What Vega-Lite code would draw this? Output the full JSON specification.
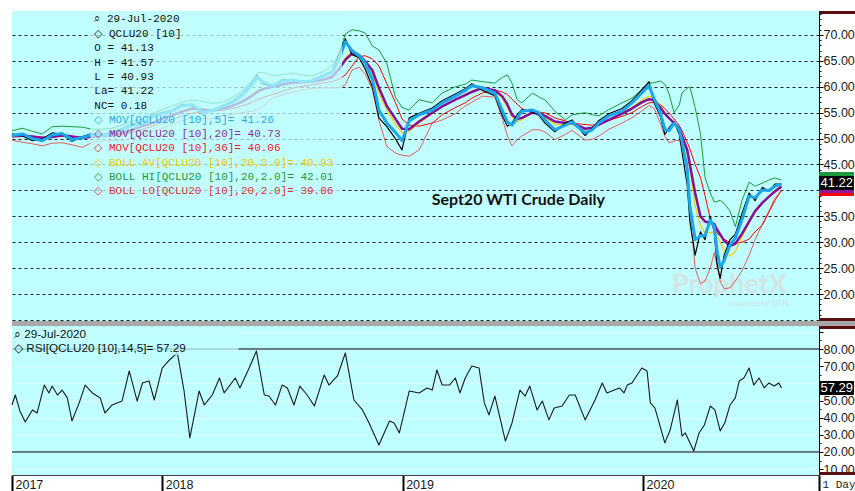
{
  "$schema": "https://vega.github.io/schema/vega-lite/v6.json",
  "background": "#ffffff",
  "padding": {"left": 10, "top": 8, "right": 0, "bottom": 0},
  "spacing": 5,
  "bounds": "flush",
  "config": {
    "view": {"fill": "#c0ffff", "stroke": null},
    "line": {"strokeJoin": "round"}
  },
  "datasets": {
    "p": [
      {"d": "2017-05-18", "c": 50.9, "m5": 50.6, "m20": 50.5, "bav": 50.5, "m36": 50.3, "bhi": 51.5, "blo": 49.7},
      {"d": "2017-06-03", "c": 50.5, "m5": 50.9, "m20": 50.6, "bav": 50.6, "m36": 50.4, "bhi": 52.0, "blo": 49.3},
      {"d": "2017-06-18", "c": 49.6, "m5": 50.0, "m20": 50.4, "bav": 50.3, "m36": 50.4, "bhi": 51.4, "blo": 49.0},
      {"d": "2017-07-03", "c": 49.9, "m5": 49.6, "m20": 50.1, "bav": 50.0, "m36": 50.3, "bhi": 50.9, "blo": 48.6},
      {"d": "2017-07-18", "c": 51.1, "m5": 50.7, "m20": 50.3, "bav": 50.4, "m36": 50.3, "bhi": 52.3, "blo": 49.1},
      {"d": "2017-08-02", "c": 50.8, "m5": 51.0, "m20": 50.7, "bav": 50.7, "m36": 50.4, "bhi": 52.4, "blo": 49.2},
      {"d": "2017-08-17", "c": 49.5, "m5": 49.8, "m20": 50.4, "bav": 50.3, "m36": 50.4, "bhi": 52.3, "blo": 48.8},
      {"d": "2017-09-02", "c": 50.4, "m5": 50.2, "m20": 50.1, "bav": 50.1, "m36": 50.3, "bhi": 52.2, "blo": 48.3},
      {"d": "2017-09-17", "c": 51.0, "m5": 50.8, "m20": 50.4, "bav": 50.5, "m36": 50.3, "bhi": 51.8, "blo": 49.3},
      {"d": "2017-10-02", "c": 50.8, "m5": 50.6, "m20": 50.6, "bav": 50.6, "m36": 50.4, "bhi": 51.8, "blo": 49.5},
      {"d": "2017-10-17", "c": 51.2, "m5": 51.0, "m20": 50.7, "bav": 50.8, "m36": 50.5, "bhi": 52.0, "blo": 49.6},
      {"d": "2017-11-01", "c": 52.0, "m5": 51.8, "m20": 51.1, "bav": 51.2, "m36": 50.8, "bhi": 52.6, "blo": 49.7},
      {"d": "2017-11-16", "c": 52.8, "m5": 52.5, "m20": 51.7, "bav": 51.8, "m36": 51.2, "bhi": 53.3, "blo": 50.0},
      {"d": "2017-12-02", "c": 52.9, "m5": 53.0, "m20": 52.4, "bav": 52.5, "m36": 51.8, "bhi": 53.8, "blo": 50.9},
      {"d": "2017-12-17", "c": 54.5, "m5": 54.2, "m20": 53.0, "bav": 53.2, "m36": 52.4, "bhi": 54.8, "blo": 51.3},
      {"d": "2018-01-01", "c": 55.0, "m5": 54.8, "m20": 53.8, "bav": 54.0, "m36": 53.1, "bhi": 55.6, "blo": 52.0},
      {"d": "2018-01-16", "c": 55.5, "m5": 55.3, "m20": 54.5, "bav": 54.7, "m36": 53.7, "bhi": 56.3, "blo": 52.8},
      {"d": "2018-01-31", "c": 56.6, "m5": 56.3, "m20": 55.2, "bav": 55.4, "m36": 54.3, "bhi": 57.0, "blo": 53.4},
      {"d": "2018-02-16", "c": 56.3, "m5": 56.6, "m20": 55.8, "bav": 55.9, "m36": 54.9, "bhi": 57.4, "blo": 54.0},
      {"d": "2018-03-03", "c": 54.7, "m5": 55.0, "m20": 55.6, "bav": 55.5, "m36": 55.2, "bhi": 57.2, "blo": 53.9},
      {"d": "2018-03-18", "c": 55.6, "m5": 55.4, "m20": 55.4, "bav": 55.4, "m36": 55.3, "bhi": 56.8, "blo": 53.8},
      {"d": "2018-04-02", "c": 56.4, "m5": 56.2, "m20": 55.7, "bav": 55.8, "m36": 55.5, "bhi": 57.0, "blo": 54.3},
      {"d": "2018-04-17", "c": 57.2, "m5": 57.0, "m20": 56.3, "bav": 56.4, "m36": 55.8, "bhi": 57.9, "blo": 54.7},
      {"d": "2018-05-02", "c": 58.6, "m5": 58.3, "m20": 57.1, "bav": 57.3, "m36": 56.3, "bhi": 59.1, "blo": 55.0},
      {"d": "2018-05-18", "c": 60.9, "m5": 60.5, "m20": 58.3, "bav": 58.6, "m36": 57.0, "bhi": 61.4, "blo": 55.3},
      {"d": "2018-05-25", "c": 62.2, "m5": 61.8, "m20": 59.0, "bav": 59.3, "m36": 57.5, "bhi": 62.6, "blo": 55.6},
      {"d": "2018-06-02", "c": 60.6, "m5": 61.0, "m20": 59.5, "bav": 59.7, "m36": 57.9, "bhi": 62.8, "blo": 56.2},
      {"d": "2018-06-17", "c": 60.0, "m5": 60.2, "m20": 60.0, "bav": 60.0, "m36": 58.5, "bhi": 62.2, "blo": 57.8},
      {"d": "2018-07-02", "c": 61.4, "m5": 61.1, "m20": 60.4, "bav": 60.5, "m36": 59.1, "bhi": 62.3, "blo": 58.4},
      {"d": "2018-07-17", "c": 61.2, "m5": 61.3, "m20": 60.8, "bav": 60.8, "m36": 59.7, "bhi": 62.7, "blo": 58.9},
      {"d": "2018-08-01", "c": 60.8, "m5": 61.0, "m20": 60.9, "bav": 60.9, "m36": 60.1, "bhi": 62.3, "blo": 59.4},
      {"d": "2018-08-17", "c": 61.3, "m5": 61.1, "m20": 61.0, "bav": 61.0, "m36": 60.4, "bhi": 62.1, "blo": 59.7},
      {"d": "2018-09-01", "c": 62.2, "m5": 62.0, "m20": 61.3, "bav": 61.4, "m36": 60.7, "bhi": 62.8, "blo": 59.8},
      {"d": "2018-09-16", "c": 63.0, "m5": 62.8, "m20": 61.9, "bav": 62.0, "m36": 61.0, "bhi": 64.0, "blo": 59.8},
      {"d": "2018-09-27", "c": 66.5, "m5": 65.5, "m20": 63.5, "bav": 63.8, "m36": 61.5, "bhi": 66.5, "blo": 59.8},
      {"d": "2018-10-06", "c": 69.3, "m5": 68.7, "m20": 65.2, "bav": 65.6, "m36": 62.3, "bhi": 70.2, "blo": 60.4},
      {"d": "2018-10-16", "c": 66.2, "m5": 67.0, "m20": 66.4, "bav": 66.8, "m36": 64.0, "bhi": 71.0, "blo": 63.2},
      {"d": "2018-10-27", "c": 65.6, "m5": 66.0, "m20": 66.1, "bav": 66.3, "m36": 65.8, "bhi": 70.8, "blo": 63.8},
      {"d": "2018-11-05", "c": 63.5, "m5": 64.6, "m20": 64.9, "bav": 64.6, "m36": 66.0, "bhi": 70.4, "blo": 62.5},
      {"d": "2018-11-16", "c": 60.0, "m5": 61.5, "m20": 63.2, "bav": 62.5, "m36": 65.4, "bhi": 67.9, "blo": 59.5},
      {"d": "2018-11-26", "c": 54.0, "m5": 55.5, "m20": 59.8, "bav": 58.8, "m36": 64.0, "bhi": 67.1, "blo": 53.5},
      {"d": "2018-12-08", "c": 52.3, "m5": 53.0, "m20": 56.3, "bav": 55.5, "m36": 60.6, "bhi": 64.5, "blo": 48.5},
      {"d": "2018-12-21", "c": 50.0, "m5": 51.2, "m20": 53.8, "bav": 52.8, "m36": 57.0, "bhi": 58.0, "blo": 47.2},
      {"d": "2018-12-31", "c": 47.8, "m5": 49.6, "m20": 51.9, "bav": 51.1, "m36": 53.8, "bhi": 56.0, "blo": 46.8},
      {"d": "2019-01-11", "c": 54.0, "m5": 53.4, "m20": 51.8, "bav": 51.4, "m36": 52.6, "bhi": 55.5, "blo": 46.6},
      {"d": "2019-01-26", "c": 54.9, "m5": 54.6, "m20": 53.3, "bav": 53.0, "m36": 52.4, "bhi": 57.5, "blo": 47.8},
      {"d": "2019-02-15", "c": 55.9, "m5": 55.5, "m20": 55.0, "bav": 54.8, "m36": 53.0, "bhi": 56.9, "blo": 53.0},
      {"d": "2019-03-02", "c": 57.3, "m5": 56.9, "m20": 56.2, "bav": 56.1, "m36": 54.6, "bhi": 58.8, "blo": 53.6},
      {"d": "2019-03-22", "c": 58.6, "m5": 58.2, "m20": 57.5, "bav": 57.5, "m36": 56.0, "bhi": 60.0, "blo": 54.8},
      {"d": "2019-04-06", "c": 59.6, "m5": 59.3, "m20": 58.4, "bav": 58.5, "m36": 56.9, "bhi": 60.5, "blo": 56.3},
      {"d": "2019-04-16", "c": 60.6, "m5": 60.2, "m20": 59.0, "bav": 59.1, "m36": 57.8, "bhi": 61.3, "blo": 57.0},
      {"d": "2019-05-02", "c": 59.3, "m5": 59.8, "m20": 59.8, "bav": 59.9, "m36": 58.8, "bhi": 61.0, "blo": 58.2},
      {"d": "2019-05-21", "c": 58.3, "m5": 58.8, "m20": 59.3, "bav": 59.2, "m36": 59.4, "bhi": 60.7, "blo": 58.0},
      {"d": "2019-06-01", "c": 54.5, "m5": 55.5, "m20": 58.2, "bav": 57.8, "m36": 59.0, "bhi": 61.8, "blo": 54.0},
      {"d": "2019-06-09", "c": 52.4, "m5": 53.2, "m20": 56.6, "bav": 56.0, "m36": 58.5, "bhi": 62.3, "blo": 50.5},
      {"d": "2019-06-16", "c": 53.0, "m5": 52.6, "m20": 54.6, "bav": 54.2, "m36": 57.6, "bhi": 60.7, "blo": 48.6},
      {"d": "2019-06-24", "c": 54.6, "m5": 54.0, "m20": 53.8, "bav": 53.2, "m36": 56.6, "bhi": 57.5, "blo": 49.8},
      {"d": "2019-07-01", "c": 55.6, "m5": 55.3, "m20": 54.0, "bav": 53.7, "m36": 55.8, "bhi": 56.9, "blo": 50.5},
      {"d": "2019-07-17", "c": 55.1, "m5": 55.5, "m20": 55.0, "bav": 55.0, "m36": 55.0, "bhi": 58.8, "blo": 51.7},
      {"d": "2019-07-27", "c": 54.5, "m5": 55.0, "m20": 54.9, "bav": 54.8, "m36": 55.0, "bhi": 58.0, "blo": 51.7},
      {"d": "2019-08-05", "c": 53.0, "m5": 53.6, "m20": 54.4, "bav": 54.0, "m36": 55.0, "bhi": 57.5, "blo": 51.3},
      {"d": "2019-08-20", "c": 51.3, "m5": 51.7, "m20": 53.3, "bav": 52.8, "m36": 54.0, "bhi": 55.3, "blo": 49.8},
      {"d": "2019-09-05", "c": 53.0, "m5": 52.6, "m20": 53.0, "bav": 52.6, "m36": 53.4, "bhi": 53.6, "blo": 50.8},
      {"d": "2019-09-15", "c": 53.6, "m5": 53.2, "m20": 53.0, "bav": 52.8, "m36": 53.0, "bhi": 54.6, "blo": 51.6},
      {"d": "2019-10-05", "c": 50.6, "m5": 51.1, "m20": 51.9, "bav": 51.4, "m36": 52.7, "bhi": 55.0, "blo": 49.7},
      {"d": "2019-10-16", "c": 52.0, "m5": 51.7, "m20": 52.1, "bav": 51.7, "m36": 52.6, "bhi": 54.6, "blo": 49.9},
      {"d": "2019-10-26", "c": 53.5, "m5": 53.0, "m20": 52.7, "bav": 52.6, "m36": 52.8, "bhi": 54.4, "blo": 50.5},
      {"d": "2019-11-10", "c": 54.8, "m5": 54.4, "m20": 53.6, "bav": 53.6, "m36": 53.5, "bhi": 55.6, "blo": 51.8},
      {"d": "2019-11-30", "c": 55.8, "m5": 55.3, "m20": 54.8, "bav": 54.9, "m36": 54.3, "bhi": 56.9, "blo": 53.0},
      {"d": "2019-12-15", "c": 57.3, "m5": 56.9, "m20": 55.8, "bav": 56.0, "m36": 55.0, "bhi": 57.8, "blo": 54.0},
      {"d": "2019-12-30", "c": 59.4, "m5": 58.8, "m20": 57.0, "bav": 57.4, "m36": 56.2, "bhi": 59.4, "blo": 55.3},
      {"d": "2020-01-10", "c": 61.0, "m5": 60.2, "m20": 57.6, "bav": 58.2, "m36": 56.9, "bhi": 60.7, "blo": 56.4},
      {"d": "2020-01-18", "c": 56.8, "m5": 57.6, "m20": 57.4, "bav": 57.8, "m36": 57.0, "bhi": 60.8, "blo": 55.8},
      {"d": "2020-01-27", "c": 54.3, "m5": 55.0, "m20": 56.0, "bav": 56.4, "m36": 56.6, "bhi": 61.1, "blo": 53.0},
      {"d": "2020-02-03", "c": 50.8, "m5": 51.8, "m20": 54.8, "bav": 55.0, "m36": 55.8, "bhi": 60.5, "blo": 50.5},
      {"d": "2020-02-09", "c": 52.0, "m5": 51.5, "m20": 54.0, "bav": 54.0, "m36": 55.0, "bhi": 58.8, "blo": 49.2},
      {"d": "2020-02-17", "c": 53.3, "m5": 53.0, "m20": 53.0, "bav": 53.0, "m36": 53.8, "bhi": 55.0, "blo": 49.5},
      {"d": "2020-02-25", "c": 50.8, "m5": 51.7, "m20": 52.0, "bav": 51.6, "m36": 52.5, "bhi": 56.5, "blo": 49.7},
      {"d": "2020-02-29", "c": 47.5, "m5": 49.5, "m20": 50.5, "bav": 50.0, "m36": 51.5, "bhi": 58.8, "blo": 48.3},
      {"d": "2020-03-08", "c": 41.0, "m5": 44.0, "m20": 47.8, "bav": 47.0, "m36": 49.3, "bhi": 59.7, "blo": 45.5},
      {"d": "2020-03-12", "c": 34.0, "m5": 37.0, "m20": 45.0, "bav": 44.0, "m36": 48.0, "bhi": 60.0, "blo": 36.0},
      {"d": "2020-03-20", "c": 27.5, "m5": 30.5, "m20": 39.5, "bav": 37.0, "m36": 45.0, "bhi": 56.0, "blo": 25.0},
      {"d": "2020-03-28", "c": 32.0, "m5": 31.2, "m20": 35.0, "bav": 33.2, "m36": 42.5, "bhi": 51.0, "blo": 22.0},
      {"d": "2020-04-04", "c": 30.5, "m5": 31.3, "m20": 34.0, "bav": 31.8, "m36": 39.0, "bhi": 42.5, "blo": 22.5},
      {"d": "2020-04-12", "c": 35.0, "m5": 34.3, "m20": 33.7, "bav": 31.8, "m36": 34.5, "bhi": 39.5, "blo": 25.0},
      {"d": "2020-04-18", "c": 32.0, "m5": 33.0, "m20": 33.5, "bav": 32.0, "m36": 32.8, "bhi": 37.8, "blo": 28.0},
      {"d": "2020-04-22", "c": 26.0, "m5": 28.5, "m20": 32.5, "bav": 31.3, "m36": 31.8, "bhi": 37.8, "blo": 25.5},
      {"d": "2020-04-27", "c": 23.0, "m5": 25.2, "m20": 31.5, "bav": 30.0, "m36": 31.2, "bhi": 38.1, "blo": 22.5},
      {"d": "2020-05-03", "c": 27.5, "m5": 26.4, "m20": 30.3, "bav": 28.5, "m36": 30.6, "bhi": 37.5, "blo": 21.0},
      {"d": "2020-05-12", "c": 30.5, "m5": 29.5, "m20": 29.3, "bav": 27.3, "m36": 29.9, "bhi": 36.0, "blo": 21.2},
      {"d": "2020-05-20", "c": 31.5, "m5": 30.8, "m20": 29.7, "bav": 28.2, "m36": 29.8, "bhi": 33.0, "blo": 22.5},
      {"d": "2020-05-30", "c": 35.5, "m5": 34.3, "m20": 31.6, "bav": 31.0, "m36": 30.0, "bhi": 38.0, "blo": 24.5},
      {"d": "2020-06-10", "c": 39.5, "m5": 38.9, "m20": 34.0, "bav": 33.7, "m36": 30.6, "bhi": 41.6, "blo": 27.5},
      {"d": "2020-06-19", "c": 38.0, "m5": 38.6, "m20": 36.0, "bav": 35.8, "m36": 32.0, "bhi": 40.8, "blo": 30.5},
      {"d": "2020-06-30", "c": 40.6, "m5": 40.1, "m20": 37.6, "bav": 37.6, "m36": 33.3, "bhi": 41.4, "blo": 33.5},
      {"d": "2020-07-10", "c": 39.8, "m5": 40.0, "m20": 38.8, "bav": 38.9, "m36": 35.8, "bhi": 42.0, "blo": 36.0},
      {"d": "2020-07-19", "c": 41.2, "m5": 40.8, "m20": 39.8, "bav": 40.0, "m36": 38.0, "bhi": 42.4, "blo": 38.5},
      {"d": "2020-07-29", "c": 41.22, "m5": 41.26, "m20": 40.73, "bav": 40.93, "m36": 40.06, "bhi": 42.01, "blo": 39.86}
    ],
    "r": [
      {"d": "2017-05-18", "rsi": 47.4}, {"d": "2017-05-23", "rsi": 53.2}, {"d": "2017-05-30", "rsi": 43.9},
      {"d": "2017-06-07", "rsi": 37.5}, {"d": "2017-06-18", "rsi": 44.5}, {"d": "2017-06-25", "rsi": 42.7},
      {"d": "2017-07-06", "rsi": 59.0}, {"d": "2017-07-13", "rsi": 54.4}, {"d": "2017-07-18", "rsi": 58.4},
      {"d": "2017-07-26", "rsi": 53.2}, {"d": "2017-08-02", "rsi": 56.1}, {"d": "2017-08-10", "rsi": 51.5},
      {"d": "2017-08-17", "rsi": 38.1}, {"d": "2017-08-28", "rsi": 48.6}, {"d": "2017-09-06", "rsi": 59.0},
      {"d": "2017-09-17", "rsi": 54.4}, {"d": "2017-09-29", "rsi": 51.5}, {"d": "2017-10-06", "rsi": 42.7},
      {"d": "2017-10-17", "rsi": 47.4}, {"d": "2017-11-01", "rsi": 49.7}, {"d": "2017-11-12", "rsi": 67.2},
      {"d": "2017-11-24", "rsi": 49.7}, {"d": "2017-12-02", "rsi": 60.2}, {"d": "2017-12-12", "rsi": 61.4},
      {"d": "2017-12-20", "rsi": 50.3}, {"d": "2018-01-01", "rsi": 68.9}, {"d": "2018-01-12", "rsi": 73.6},
      {"d": "2018-01-24", "rsi": 77.7}, {"d": "2018-02-03", "rsi": 56.1}, {"d": "2018-02-12", "rsi": 28.2},
      {"d": "2018-02-26", "rsi": 55.5}, {"d": "2018-03-06", "rsi": 47.4}, {"d": "2018-03-18", "rsi": 53.2},
      {"d": "2018-03-29", "rsi": 63.1}, {"d": "2018-04-05", "rsi": 54.4}, {"d": "2018-04-22", "rsi": 63.1},
      {"d": "2018-04-29", "rsi": 57.3}, {"d": "2018-05-13", "rsi": 68.9}, {"d": "2018-05-24", "rsi": 78.8},
      {"d": "2018-06-05", "rsi": 53.2}, {"d": "2018-06-12", "rsi": 52.6}, {"d": "2018-06-22", "rsi": 47.4},
      {"d": "2018-07-02", "rsi": 59.0}, {"d": "2018-07-10", "rsi": 57.3}, {"d": "2018-07-20", "rsi": 47.4},
      {"d": "2018-07-29", "rsi": 58.4}, {"d": "2018-08-09", "rsi": 53.2}, {"d": "2018-08-20", "rsi": 46.8},
      {"d": "2018-09-04", "rsi": 64.9}, {"d": "2018-09-11", "rsi": 59.0}, {"d": "2018-09-24", "rsi": 64.3},
      {"d": "2018-10-06", "rsi": 77.7}, {"d": "2018-10-19", "rsi": 50.3}, {"d": "2018-11-01", "rsi": 44.5},
      {"d": "2018-11-11", "rsi": 36.9}, {"d": "2018-11-26", "rsi": 24.1}, {"d": "2018-12-12", "rsi": 38.1},
      {"d": "2018-12-19", "rsi": 36.9}, {"d": "2018-12-27", "rsi": 31.1}, {"d": "2019-01-11", "rsi": 55.5},
      {"d": "2019-01-26", "rsi": 54.4}, {"d": "2019-02-07", "rsi": 57.3}, {"d": "2019-02-15", "rsi": 56.1},
      {"d": "2019-02-22", "rsi": 67.8}, {"d": "2019-03-02", "rsi": 59.0}, {"d": "2019-03-13", "rsi": 59.0},
      {"d": "2019-03-22", "rsi": 63.1}, {"d": "2019-03-29", "rsi": 54.4}, {"d": "2019-04-06", "rsi": 63.1},
      {"d": "2019-04-16", "rsi": 70.1}, {"d": "2019-04-27", "rsi": 68.9}, {"d": "2019-05-05", "rsi": 48.6},
      {"d": "2019-05-12", "rsi": 41.6}, {"d": "2019-05-21", "rsi": 52.6}, {"d": "2019-06-06", "rsi": 26.4},
      {"d": "2019-06-16", "rsi": 36.9}, {"d": "2019-06-28", "rsi": 56.1}, {"d": "2019-07-06", "rsi": 52.6},
      {"d": "2019-07-13", "rsi": 58.4}, {"d": "2019-07-24", "rsi": 44.5}, {"d": "2019-08-01", "rsi": 49.7},
      {"d": "2019-08-11", "rsi": 38.7}, {"d": "2019-08-19", "rsi": 45.6}, {"d": "2019-08-31", "rsi": 46.8},
      {"d": "2019-09-11", "rsi": 53.2}, {"d": "2019-09-20", "rsi": 53.2}, {"d": "2019-10-05", "rsi": 38.7},
      {"d": "2019-10-20", "rsi": 50.3}, {"d": "2019-10-31", "rsi": 60.2}, {"d": "2019-11-07", "rsi": 54.4},
      {"d": "2019-11-26", "rsi": 57.3}, {"d": "2019-12-03", "rsi": 54.4}, {"d": "2019-12-08", "rsi": 59.0},
      {"d": "2019-12-15", "rsi": 60.2}, {"d": "2019-12-30", "rsi": 68.9}, {"d": "2020-01-07", "rsi": 67.2},
      {"d": "2020-01-12", "rsi": 48.6}, {"d": "2020-01-19", "rsi": 45.6}, {"d": "2020-02-03", "rsi": 25.3},
      {"d": "2020-02-11", "rsi": 32.8}, {"d": "2020-02-22", "rsi": 50.3}, {"d": "2020-02-29", "rsi": 29.3},
      {"d": "2020-03-05", "rsi": 31.1}, {"d": "2020-03-18", "rsi": 20.6}, {"d": "2020-03-26", "rsi": 31.1},
      {"d": "2020-04-03", "rsi": 35.7}, {"d": "2020-04-12", "rsi": 46.8}, {"d": "2020-04-19", "rsi": 44.5},
      {"d": "2020-04-27", "rsi": 32.3}, {"d": "2020-05-04", "rsi": 36.9}, {"d": "2020-05-12", "rsi": 47.4},
      {"d": "2020-05-20", "rsi": 51.5}, {"d": "2020-05-26", "rsi": 61.4}, {"d": "2020-06-02", "rsi": 63.1},
      {"d": "2020-06-10", "rsi": 68.9}, {"d": "2020-06-17", "rsi": 59.0}, {"d": "2020-06-25", "rsi": 63.1},
      {"d": "2020-07-03", "rsi": 57.3}, {"d": "2020-07-10", "rsi": 60.2}, {"d": "2020-07-18", "rsi": 58.4},
      {"d": "2020-07-25", "rsi": 60.2}, {"d": "2020-07-29", "rsi": 57.29}
    ]
  },
  "vconcat": [
    {
      "width": 807,
      "height": 310,
      "data": {"name": "p"},
      "layer": [
        {
          "mark": {"type": "line", "color": "#169c3a", "strokeWidth": 1},
          "encoding": {
            "x": {"field": "d", "type": "temporal", "scale": {"type": "utc", "domain": [{"year": 2017, "month": 5, "date": 18, "utc": true}, {"year": 2020, "month": 9, "date": 24, "utc": true}]}, "axis": null},
            "y": {
              "field": "bhi", "type": "quantitative", "title": null,
              "scale": {"domain": [14.79, 74.63], "nice": false, "zero": false},
              "axis": {
                "orient": "right",
                "title": null,
                "tickCount": 200,
                "values": [15,16,17,18,19,20,21,22,23,24,25,26,27,28,29,30,31,32,33,34,35,36,37,38,39,40,41,42,43,44,45,46,47,48,49,50,51,52,53,54,55,56,57,58,59,60,61,62,63,64,65,66,67,68,69,70,71,72,73,74],
                "labelExpr": "(datum.value % 5 === 0 && datum.value >= 20 && datum.value <= 70 && datum.value !== 40) ? format(datum.value, '.2f') : ''",
                "labelFont": "Liberation Sans",
                "labelFontSize": 12.5,
                "labelColor": "#1a1a1a",
                "labelPadding": 0,
                "labelOverlap": false,
                "labelBound": false,
                "labelFlush": false,
                "tickSize": {"condition": {"test": "datum.value % 5 === 0", "value": 4}, "value": 2},
                "tickColor": "#000000",
                "tickWidth": 1,
                "domainColor": "#000000",
                "domainWidth": 1,
                "grid": true,
                "gridColor": "#000000",
                "gridDash": [3, 3],
                "gridWidth": 1,
                "gridOpacity": {"condition": {"test": "datum.value % 5 === 0 && datum.value <= 70", "value": 0.85}, "value": 0}
              }
            }
          }
        },
        {
          "data": {"values": [{}]},
          "mark": {"type": "text", "text": "ProphetX", "font": "Lato", "fontSize": 27, "fontWeight": "bold", "color": "#d2e4e4", "align": "left", "baseline": "middle"},
          "encoding": {
            "x": {"datum": {"year": 2020, "month": 2, "date": 14, "utc": true}, "type": "temporal", "scale": {"type": "utc", "domain": [{"year": 2017, "month": 5, "date": 18, "utc": true}, {"year": 2020, "month": 9, "date": 24, "utc": true}]}, "axis": null},
            "y": {"datum": 21.8, "type": "quantitative", "title": null, "scale": {"domain": [14.79, 74.63], "nice": false, "zero": false}}
          }
        },
        {
          "data": {"values": [{}]},
          "mark": {"type": "text", "text": "powered by DTN", "font": "Lato", "fontSize": 8, "color": "#cfe0e0", "align": "left", "baseline": "middle"},
          "encoding": {
            "x": {"datum": {"year": 2020, "month": 5, "date": 10, "utc": true}, "type": "temporal", "scale": {"type": "utc", "domain": [{"year": 2017, "month": 5, "date": 18, "utc": true}, {"year": 2020, "month": 9, "date": 24, "utc": true}]}, "axis": null},
            "y": {"datum": 18.1, "type": "quantitative", "title": null, "scale": {"domain": [14.79, 74.63], "nice": false, "zero": false}}
          }
        },
        {
          "mark": {"type": "line", "color": "#e35d5d", "strokeWidth": 1},
          "encoding": {
            "x": {"field": "d", "type": "temporal", "scale": {"type": "utc", "domain": [{"year": 2017, "month": 5, "date": 18, "utc": true}, {"year": 2020, "month": 9, "date": 24, "utc": true}]}, "axis": null},
            "y": {"field": "blo", "type": "quantitative", "title": null, "scale": {"domain": [14.79, 74.63], "nice": false, "zero": false}}
          }
        },
        {
          "mark": {"type": "line", "color": "#ff0000", "strokeWidth": 1},
          "encoding": {
            "x": {"field": "d", "type": "temporal", "scale": {"type": "utc", "domain": [{"year": 2017, "month": 5, "date": 18, "utc": true}, {"year": 2020, "month": 9, "date": 24, "utc": true}]}, "axis": null},
            "y": {"field": "m36", "type": "quantitative", "title": null, "scale": {"domain": [14.79, 74.63], "nice": false, "zero": false}}
          }
        },
        {
          "mark": {"type": "line", "color": "#f5cc00", "strokeWidth": 1.2},
          "encoding": {
            "x": {"field": "d", "type": "temporal", "scale": {"type": "utc", "domain": [{"year": 2017, "month": 5, "date": 18, "utc": true}, {"year": 2020, "month": 9, "date": 24, "utc": true}]}, "axis": null},
            "y": {"field": "bav", "type": "quantitative", "title": null, "scale": {"domain": [14.79, 74.63], "nice": false, "zero": false}}
          }
        },
        {
          "mark": {"type": "line", "color": "#880e99", "strokeWidth": 2.5},
          "encoding": {
            "x": {"field": "d", "type": "temporal", "scale": {"type": "utc", "domain": [{"year": 2017, "month": 5, "date": 18, "utc": true}, {"year": 2020, "month": 9, "date": 24, "utc": true}]}, "axis": null},
            "y": {"field": "m20", "type": "quantitative", "title": null, "scale": {"domain": [14.79, 74.63], "nice": false, "zero": false}}
          }
        },
        {
          "mark": {"type": "line", "color": "#000000", "strokeWidth": 1.2},
          "encoding": {
            "x": {"field": "d", "type": "temporal", "scale": {"type": "utc", "domain": [{"year": 2017, "month": 5, "date": 18, "utc": true}, {"year": 2020, "month": 9, "date": 24, "utc": true}]}, "axis": null},
            "y": {"field": "c", "type": "quantitative", "title": null, "scale": {"domain": [14.79, 74.63], "nice": false, "zero": false}}
          }
        },
        {
          "mark": {"type": "line", "color": "#1aa7ec", "strokeWidth": 3},
          "encoding": {
            "x": {"field": "d", "type": "temporal", "scale": {"type": "utc", "domain": [{"year": 2017, "month": 5, "date": 18, "utc": true}, {"year": 2020, "month": 9, "date": 24, "utc": true}]}, "axis": null},
            "y": {"field": "m5", "type": "quantitative", "title": null, "scale": {"domain": [14.79, 74.63], "nice": false, "zero": false}}
          }
        },
        {
          "data": {"values": [{}]},
          "mark": {"type": "rect", "color": "#c0ffff", "opacity": 0.72},
          "encoding": {
            "x": {"datum": {"year": 2017, "month": 9, "date": 14, "utc": true}, "type": "temporal", "scale": {"type": "utc", "domain": [{"year": 2017, "month": 5, "date": 18, "utc": true}, {"year": 2020, "month": 9, "date": 24, "utc": true}]}, "axis": null},
            "x2": {"datum": {"year": 2018, "month": 10, "date": 1, "utc": true}},
            "y": {"datum": 74.63, "type": "quantitative", "title": null, "scale": {"domain": [14.79, 74.63], "nice": false, "zero": false}},
            "y2": {"datum": 38.5}
          }
        },
        {
          "data": {"values": [{}]},
          "mark": {"type": "text", "text": ["⌕ 29-Jul-2020", "◇ QCLU20 [10]", "O = 41.13", "H = 41.57", "L = 40.93", "La= 41.22", "NC= 0.18"], "font": "Liberation Mono", "fontSize": 11, "lineHeight": 14.4, "color": "#111111", "align": "left", "baseline": "top"},
          "encoding": {
            "x": {"datum": {"year": 2017, "month": 9, "date": 20, "utc": true}, "type": "temporal", "scale": {"type": "utc", "domain": [{"year": 2017, "month": 5, "date": 18, "utc": true}, {"year": 2020, "month": 9, "date": 24, "utc": true}]}, "axis": null},
            "y": {"datum": 74.15, "type": "quantitative", "title": null, "scale": {"domain": [14.79, 74.63], "nice": false, "zero": false}}
          }
        },
        {
          "data": {"values": [{}]},
          "mark": {"type": "text", "text": "◇ MOV[QCLU20 [10],5]= 41.26", "font": "Liberation Mono", "fontSize": 11, "color": "#2aa8e8", "align": "left", "baseline": "middle"},
          "encoding": {
            "x": {"datum": {"year": 2017, "month": 9, "date": 20, "utc": true}, "type": "temporal", "scale": {"type": "utc", "domain": [{"year": 2017, "month": 5, "date": 18, "utc": true}, {"year": 2020, "month": 9, "date": 24, "utc": true}]}, "axis": null},
            "y": {"datum": 53.59, "type": "quantitative", "title": null, "scale": {"domain": [14.79, 74.63], "nice": false, "zero": false}}
          }
        },
        {
          "data": {"values": [{}]},
          "mark": {"type": "text", "text": "◇ MOV[QCLU20 [10],20]= 40.73", "font": "Liberation Mono", "fontSize": 11, "color": "#8a2d9a", "align": "left", "baseline": "middle"},
          "encoding": {
            "x": {"datum": {"year": 2017, "month": 9, "date": 20, "utc": true}, "type": "temporal", "scale": {"type": "utc", "domain": [{"year": 2017, "month": 5, "date": 18, "utc": true}, {"year": 2020, "month": 9, "date": 24, "utc": true}]}, "axis": null},
            "y": {"datum": 50.89, "type": "quantitative", "title": null, "scale": {"domain": [14.79, 74.63], "nice": false, "zero": false}}
          }
        },
        {
          "data": {"values": [{}]},
          "mark": {"type": "text", "text": "◇ MOV[QCLU20 [10],36]= 40.06", "font": "Liberation Mono", "fontSize": 11, "color": "#e8202a", "align": "left", "baseline": "middle"},
          "encoding": {
            "x": {"datum": {"year": 2017, "month": 9, "date": 20, "utc": true}, "type": "temporal", "scale": {"type": "utc", "domain": [{"year": 2017, "month": 5, "date": 18, "utc": true}, {"year": 2020, "month": 9, "date": 24, "utc": true}]}, "axis": null},
            "y": {"datum": 48.19, "type": "quantitative", "title": null, "scale": {"domain": [14.79, 74.63], "nice": false, "zero": false}}
          }
        },
        {
          "data": {"values": [{}]},
          "mark": {"type": "text", "text": "◇ BOLL AV[QCLU20 [10],20,2.0]= 40.93", "font": "Liberation Mono", "fontSize": 11, "color": "#f0c400", "align": "left", "baseline": "middle"},
          "encoding": {
            "x": {"datum": {"year": 2017, "month": 9, "date": 20, "utc": true}, "type": "temporal", "scale": {"type": "utc", "domain": [{"year": 2017, "month": 5, "date": 18, "utc": true}, {"year": 2020, "month": 9, "date": 24, "utc": true}]}, "axis": null},
            "y": {"datum": 45.29, "type": "quantitative", "title": null, "scale": {"domain": [14.79, 74.63], "nice": false, "zero": false}}
          }
        },
        {
          "data": {"values": [{}]},
          "mark": {"type": "text", "text": "◇ BOLL HI[QCLU20 [10],20,2.0]= 42.01", "font": "Liberation Mono", "fontSize": 11, "color": "#22983a", "align": "left", "baseline": "middle"},
          "encoding": {
            "x": {"datum": {"year": 2017, "month": 9, "date": 20, "utc": true}, "type": "temporal", "scale": {"type": "utc", "domain": [{"year": 2017, "month": 5, "date": 18, "utc": true}, {"year": 2020, "month": 9, "date": 24, "utc": true}]}, "axis": null},
            "y": {"datum": 42.59, "type": "quantitative", "title": null, "scale": {"domain": [14.79, 74.63], "nice": false, "zero": false}}
          }
        },
        {
          "data": {"values": [{}]},
          "mark": {"type": "text", "text": "◇ BOLL LO[QCLU20 [10],20,2.0]= 39.86", "font": "Liberation Mono", "fontSize": 11, "color": "#e0303a", "align": "left", "baseline": "middle"},
          "encoding": {
            "x": {"datum": {"year": 2017, "month": 9, "date": 20, "utc": true}, "type": "temporal", "scale": {"type": "utc", "domain": [{"year": 2017, "month": 5, "date": 18, "utc": true}, {"year": 2020, "month": 9, "date": 24, "utc": true}]}, "axis": null},
            "y": {"datum": 39.88, "type": "quantitative", "title": null, "scale": {"domain": [14.79, 74.63], "nice": false, "zero": false}}
          }
        },
        {
          "data": {"values": [{}]},
          "mark": {"type": "text", "text": "Sept20 WTI Crude Daily", "font": "Lato", "fontSize": 16, "fontWeight": "bold", "color": "#111111", "align": "left", "baseline": "middle"},
          "encoding": {
            "x": {"datum": {"year": 2019, "month": 2, "date": 14, "utc": true}, "type": "temporal", "scale": {"type": "utc", "domain": [{"year": 2017, "month": 5, "date": 18, "utc": true}, {"year": 2020, "month": 9, "date": 24, "utc": true}]}, "axis": null},
            "y": {"datum": 38.15, "type": "quantitative", "title": null, "scale": {"domain": [14.79, 74.63], "nice": false, "zero": false}}
          }
        },
        {
          "data": {"values": [{}]},
          "mark": {"type": "rect", "color": "#1a9a3a"},
          "encoding": {
            "x": {"datum": {"year": 2020, "month": 9, "date": 24, "utc": true}, "type": "temporal", "scale": {"type": "utc", "domain": [{"year": 2017, "month": 5, "date": 18, "utc": true}, {"year": 2020, "month": 9, "date": 24, "utc": true}]}, "axis": null},
            "x2": {"datum": {"year": 2020, "month": 11, "date": 16, "utc": true}},
            "y": {"datum": 43.55, "type": "quantitative", "title": null, "scale": {"domain": [14.79, 74.63], "nice": false, "zero": false}},
            "y2": {"datum": 42.78}
          }
        },
        {
          "data": {"values": [{}]},
          "mark": {"type": "rect", "color": "#000000"},
          "encoding": {
            "x": {"datum": {"year": 2020, "month": 9, "date": 24, "utc": true}, "type": "temporal", "scale": {"type": "utc", "domain": [{"year": 2017, "month": 5, "date": 18, "utc": true}, {"year": 2020, "month": 9, "date": 24, "utc": true}]}, "axis": null},
            "x2": {"datum": {"year": 2020, "month": 11, "date": 16, "utc": true}},
            "y": {"datum": 42.78, "type": "quantitative", "title": null, "scale": {"domain": [14.79, 74.63], "nice": false, "zero": false}},
            "y2": {"datum": 40.08}
          }
        },
        {
          "data": {"values": [{}]},
          "mark": {"type": "rect", "color": "#8a1a9a"},
          "encoding": {
            "x": {"datum": {"year": 2020, "month": 9, "date": 24, "utc": true}, "type": "temporal", "scale": {"type": "utc", "domain": [{"year": 2017, "month": 5, "date": 18, "utc": true}, {"year": 2020, "month": 9, "date": 24, "utc": true}]}, "axis": null},
            "x2": {"datum": {"year": 2020, "month": 11, "date": 16, "utc": true}},
            "y": {"datum": 40.08, "type": "quantitative", "title": null, "scale": {"domain": [14.79, 74.63], "nice": false, "zero": false}},
            "y2": {"datum": 39.5}
          }
        },
        {
          "data": {"values": [{}]},
          "mark": {"type": "rect", "color": "#ff0000"},
          "encoding": {
            "x": {"datum": {"year": 2020, "month": 9, "date": 24, "utc": true}, "type": "temporal", "scale": {"type": "utc", "domain": [{"year": 2017, "month": 5, "date": 18, "utc": true}, {"year": 2020, "month": 9, "date": 24, "utc": true}]}, "axis": null},
            "x2": {"datum": {"year": 2020, "month": 11, "date": 16, "utc": true}},
            "y": {"datum": 39.5, "type": "quantitative", "title": null, "scale": {"domain": [14.79, 74.63], "nice": false, "zero": false}},
            "y2": {"datum": 38.92}
          }
        },
        {
          "data": {"values": [{}]},
          "mark": {"type": "text", "text": "41.22", "font": "Liberation Sans", "fontSize": 13, "color": "#ffffff", "align": "center", "baseline": "middle"},
          "encoding": {
            "x": {"datum": {"year": 2020, "month": 10, "date": 21, "utc": true}, "type": "temporal", "scale": {"type": "utc", "domain": [{"year": 2017, "month": 5, "date": 18, "utc": true}, {"year": 2020, "month": 9, "date": 24, "utc": true}]}, "axis": null},
            "y": {"datum": 41.43, "type": "quantitative", "title": null, "scale": {"domain": [14.79, 74.63], "nice": false, "zero": false}}
          }
        },
        {
          "data": {"values": [{}]},
          "mark": {"type": "rect", "color": "#5a1010"},
          "encoding": {
            "x": {"datum": {"year": 2020, "month": 9, "date": 24, "utc": true}, "type": "temporal", "scale": {"type": "utc", "domain": [{"year": 2017, "month": 5, "date": 18, "utc": true}, {"year": 2020, "month": 9, "date": 24, "utc": true}]}, "axis": null},
            "x2": {"datum": {"year": 2020, "month": 11, "date": 22, "utc": true}},
            "y": {"datum": 74.63, "type": "quantitative", "title": null, "scale": {"domain": [14.79, 74.63], "nice": false, "zero": false}},
            "y2": {"datum": 74.05}
          }
        },
        {
          "data": {"values": [{}]},
          "mark": {"type": "rect", "color": "#5a1010"},
          "encoding": {
            "x": {"datum": {"year": 2020, "month": 9, "date": 24, "utc": true}, "type": "temporal", "scale": {"type": "utc", "domain": [{"year": 2017, "month": 5, "date": 18, "utc": true}, {"year": 2020, "month": 9, "date": 24, "utc": true}]}, "axis": null},
            "x2": {"datum": {"year": 2020, "month": 11, "date": 22, "utc": true}},
            "y": {"datum": 15.37, "type": "quantitative", "title": null, "scale": {"domain": [14.79, 74.63], "nice": false, "zero": false}},
            "y2": {"datum": 14.79}
          }
        },
        {
          "data": {"values": [{}]},
          "mark": {"type": "rect", "color": "#a8a8a8"},
          "encoding": {
            "x": {"datum": {"year": 2017, "month": 5, "date": 18, "utc": true}, "type": "temporal", "scale": {"type": "utc", "domain": [{"year": 2017, "month": 5, "date": 18, "utc": true}, {"year": 2020, "month": 9, "date": 24, "utc": true}]}, "axis": null},
            "x2": {"datum": {"year": 2020, "month": 11, "date": 22, "utc": true}},
            "y": {"datum": 14.79, "type": "quantitative", "title": null, "scale": {"domain": [14.79, 74.63], "nice": false, "zero": false}},
            "y2": {"datum": 13.82}
          }
        }
      ]
    },
    {
      "width": 807,
      "height": 149,
      "data": {"name": "r"},
      "layer": [
        {
          "mark": {"type": "line", "color": "#1a1a1a", "strokeWidth": 1.1},
          "encoding": {
            "x": {
              "field": "d", "type": "temporal", "title": null,
              "scale": {"type": "utc", "domain": [{"year": 2017, "month": 5, "date": 18, "utc": true}, {"year": 2020, "month": 9, "date": 24, "utc": true}]},
              "axis": {
                "orient": "bottom",
                "title": null,
                "tickCount": 200,
                "values": [{"year": 2017, "month": 5, "date": 18, "utc": true}, {"year": 2018, "month": 1, "date": 1, "utc": true}, {"year": 2019, "month": 1, "date": 1, "utc": true}, {"year": 2020, "month": 1, "date": 1, "utc": true}, {"year": 2020, "month": 9, "date": 24, "utc": true}],
                "labelExpr": "datum.value > utc(2020, 6, 1) ? '1 Day' : utcFormat(datum.value, '%Y')",
                "labelFont": {"condition": {"test": "datum.value > utc(2020, 6, 1)", "value": "Liberation Mono"}, "value": "Liberation Sans"},
                "labelFontSize": {"condition": {"test": "datum.value > utc(2020, 6, 1)", "value": 11}, "value": 12.5},
                "labelColor": "#1a1a1a",
                "labelAlign": "left",
                "labelBaseline": "top",
                "labelPadding": -16,
                "labelOffset": 3,
                "labelOverlap": false,
                "labelBound": false,
                "labelFlush": false,
                "tickSize": 19,
                "tickWidth": 2,
                "tickColor": "#000000",
                "domainColor": "#404040",
                "domainWidth": 1,
                "grid": false
              }
            },
            "y": {
              "field": "rsi", "type": "quantitative", "title": null,
              "scale": {"domain": [6.6, 93.4], "nice": false, "zero": false},
              "axis": {
                "orient": "right",
                "title": null,
                "tickCount": 200,
                "values": [10,15,20,25,30,35,40,45,50,55,60,65,70,75,80,85,90],
                "labelExpr": "(datum.value % 10 === 0 && datum.value <= 80 && datum.value !== 60) ? format(datum.value, '.2f') : ''",
                "labelFont": "Liberation Sans",
                "labelFontSize": 12.5,
                "labelColor": "#1a1a1a",
                "labelPadding": 0,
                "labelOverlap": false,
                "labelBound": false,
                "labelFlush": false,
                "tickSize": {"condition": {"test": "datum.value % 10 === 0", "value": 4}, "value": 2},
                "tickColor": "#000000",
                "tickWidth": 1,
                "domainColor": "#000000",
                "domainWidth": 1,
                "grid": true,
                "gridColor": "#ffffff",
                "gridDash": [2, 2],
                "gridWidth": 1,
                "gridOpacity": {"condition": {"test": "datum.value % 10 === 0", "value": 0.9}, "value": 0}
              }
            }
          }
        },
        {
          "data": {"values": [{}]},
          "mark": {"type": "rule", "color": "#000000", "strokeWidth": 1},
          "encoding": {
            "y": {"datum": 80, "type": "quantitative", "title": null, "scale": {"domain": [6.6, 93.4], "nice": false, "zero": false}}
          }
        },
        {
          "data": {"values": [{}]},
          "mark": {"type": "rule", "color": "#000000", "strokeWidth": 1},
          "encoding": {
            "y": {"datum": 20, "type": "quantitative", "title": null, "scale": {"domain": [6.6, 93.4], "nice": false, "zero": false}}
          }
        },
        {
          "data": {"values": [{}]},
          "mark": {"type": "rect", "color": "#c0ffff", "opacity": 0.72},
          "encoding": {
            "x": {"datum": {"year": 2017, "month": 5, "date": 18, "utc": true}, "type": "temporal", "title": null, "scale": {"type": "utc", "domain": [{"year": 2017, "month": 5, "date": 18, "utc": true}, {"year": 2020, "month": 9, "date": 24, "utc": true}]}},
            "x2": {"datum": {"year": 2018, "month": 4, "date": 27, "utc": true}},
            "y": {"datum": 93.4, "type": "quantitative", "title": null, "scale": {"domain": [6.6, 93.4], "nice": false, "zero": false}},
            "y2": {"datum": 76.5}
          }
        },
        {
          "data": {"values": [{}]},
          "mark": {"type": "text", "text": ["⌕ 29-Jul-2020", "◇ RSI[QCLU20 [10],14,5]= 57.29"], "font": "Liberation Sans", "fontSize": 11.7, "lineHeight": 14, "color": "#111111", "align": "left", "baseline": "top"},
          "encoding": {
            "x": {"datum": {"year": 2017, "month": 5, "date": 21, "utc": true}, "type": "temporal", "title": null, "scale": {"type": "utc", "domain": [{"year": 2017, "month": 5, "date": 18, "utc": true}, {"year": 2020, "month": 9, "date": 24, "utc": true}]}},
            "y": {"datum": 91.65, "type": "quantitative", "title": null, "scale": {"domain": [6.6, 93.4], "nice": false, "zero": false}}
          }
        },
        {
          "data": {"values": [{}]},
          "mark": {"type": "rect", "color": "#000000"},
          "encoding": {
            "x": {"datum": {"year": 2020, "month": 9, "date": 24, "utc": true}, "type": "temporal", "title": null, "scale": {"type": "utc", "domain": [{"year": 2017, "month": 5, "date": 18, "utc": true}, {"year": 2020, "month": 9, "date": 24, "utc": true}]}},
            "x2": {"datum": {"year": 2020, "month": 11, "date": 16, "utc": true}},
            "y": {"datum": 61.4, "type": "quantitative", "title": null, "scale": {"domain": [6.6, 93.4], "nice": false, "zero": false}},
            "y2": {"datum": 53.2}
          }
        },
        {
          "data": {"values": [{}]},
          "mark": {"type": "text", "text": "57.29", "font": "Liberation Sans", "fontSize": 13, "color": "#ffffff", "align": "center", "baseline": "middle"},
          "encoding": {
            "x": {"datum": {"year": 2020, "month": 10, "date": 21, "utc": true}, "type": "temporal", "title": null, "scale": {"type": "utc", "domain": [{"year": 2017, "month": 5, "date": 18, "utc": true}, {"year": 2020, "month": 9, "date": 24, "utc": true}]}},
            "y": {"datum": 57.29, "type": "quantitative", "title": null, "scale": {"domain": [6.6, 93.4], "nice": false, "zero": false}}
          }
        },
        {
          "data": {"values": [{}]},
          "mark": {"type": "rect", "color": "#5a1010"},
          "encoding": {
            "x": {"datum": {"year": 2020, "month": 9, "date": 24, "utc": true}, "type": "temporal", "title": null, "scale": {"type": "utc", "domain": [{"year": 2017, "month": 5, "date": 18, "utc": true}, {"year": 2020, "month": 9, "date": 24, "utc": true}]}},
            "x2": {"datum": {"year": 2020, "month": 11, "date": 22, "utc": true}},
            "y": {"datum": 93.4, "type": "quantitative", "title": null, "scale": {"domain": [6.6, 93.4], "nice": false, "zero": false}},
            "y2": {"datum": 91.65}
          }
        },
        {
          "data": {"values": [{}]},
          "mark": {"type": "rect", "color": "#5a1010"},
          "encoding": {
            "x": {"datum": {"year": 2020, "month": 9, "date": 24, "utc": true}, "type": "temporal", "title": null, "scale": {"type": "utc", "domain": [{"year": 2017, "month": 5, "date": 18, "utc": true}, {"year": 2020, "month": 9, "date": 24, "utc": true}]}},
            "x2": {"datum": {"year": 2020, "month": 11, "date": 22, "utc": true}},
            "y": {"datum": 8.35, "type": "quantitative", "title": null, "scale": {"domain": [6.6, 93.4], "nice": false, "zero": false}},
            "y2": {"datum": 6.6}
          }
        }
      ]
    }
  ]
}
